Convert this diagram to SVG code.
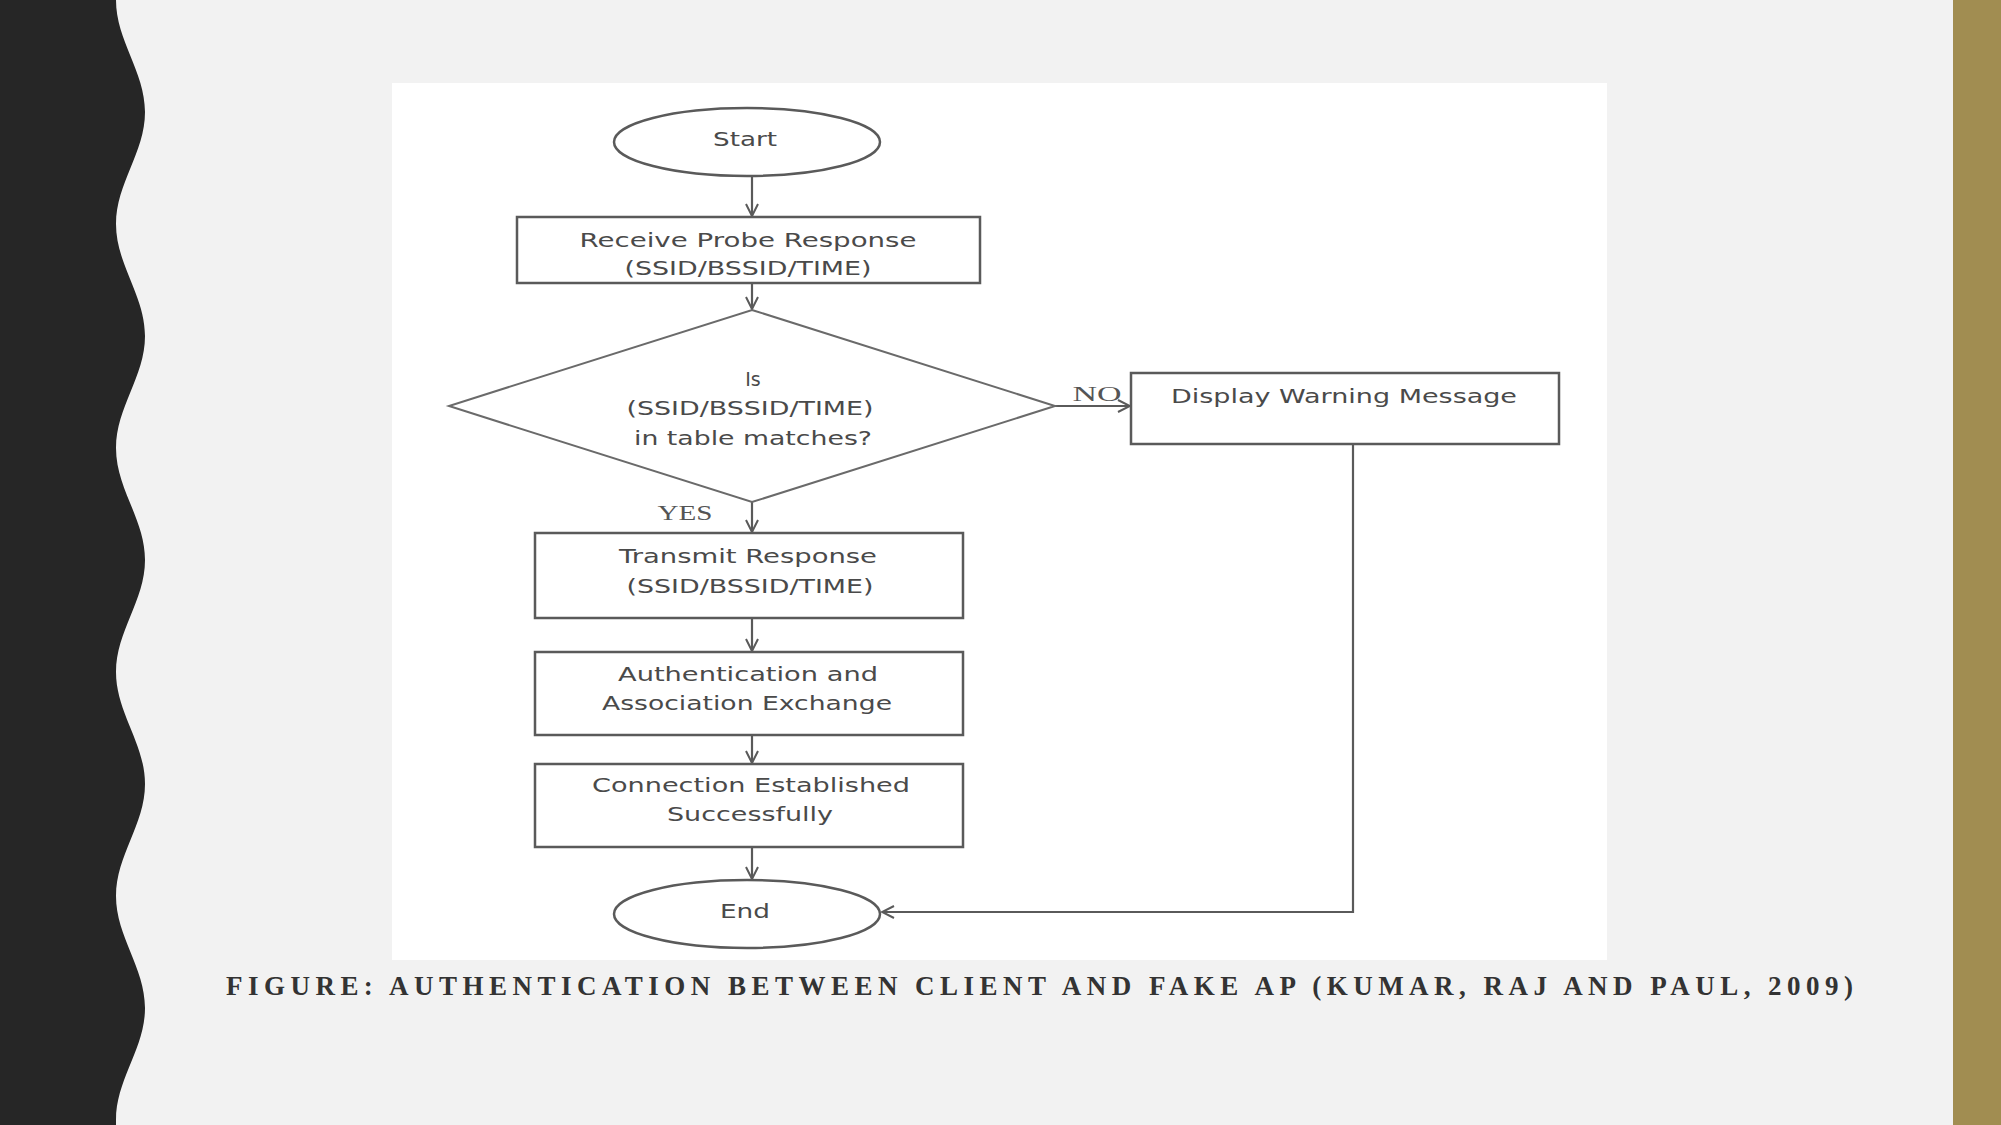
<svg xmlns="http://www.w3.org/2000/svg" width="2001" height="1125" viewBox="0 0 2001 1125">
<defs>
<style>
.bg{fill:#F2F2F2}
.node{fill:none;stroke:#5a5a5a;stroke-width:2.5}
.dia{fill:none;stroke:#6a6a6a;stroke-width:2}
.t{font-family:"DejaVu Sans","Open Sans",sans-serif;font-size:19px;fill:#4a4a4a;text-anchor:middle}
.lbl{font-family:"Liberation Serif",serif;font-size:22px;fill:#555;text-anchor:middle}
.conn{fill:none;stroke:#5a5a5a;stroke-width:2.2}
.cap{font-family:"Liberation Serif",serif;font-weight:bold;font-size:27px;fill:#333333}
</style>
<marker id="arr" markerUnits="userSpaceOnUse" markerWidth="16" markerHeight="16" viewBox="0 0 16 16" refX="14" refY="8" orient="auto">
<path d="M2,2 L14,8 L2,14" fill="none" stroke="#5a5a5a" stroke-width="2"/>
</marker>
</defs>
<rect class="bg" x="0" y="0" width="2001" height="1125"/>
<path d="M0,0 L116,0 C116,40.8 145,71.2 145,112 C145,152.8 116,183.2 116,224 C116,264.8 145,295.2 145,336 C145,376.8 116,407.2 116,448 C116,488.8 145,519.2 145,560 C145,600.8 116,631.2 116,672 C116,712.8 145,743.2 145,784 C145,824.8 116,855.2 116,896 C116,936.8 145,967.2 145,1008 C145,1048.8 116,1079.2 116,1120 L116,1125 L0,1125 Z" fill="#262626"/>
<rect x="1953" y="0" width="48" height="1125" fill="#A18D51"/>
<rect x="392" y="83" width="1215" height="877" fill="#FFFFFF"/>

<g id="connectors">
<line class="conn" x1="752" y1="176" x2="752" y2="216" marker-end="url(#arr)"/>
<line class="conn" x1="752" y1="283" x2="752" y2="309" marker-end="url(#arr)"/>
<line class="conn" x1="1055" y1="406" x2="1130" y2="406" marker-end="url(#arr)"/>
<line class="conn" x1="752" y1="502" x2="752" y2="532" marker-end="url(#arr)"/>
<line class="conn" x1="752" y1="618" x2="752" y2="651" marker-end="url(#arr)"/>
<line class="conn" x1="752" y1="735" x2="752" y2="763" marker-end="url(#arr)"/>
<line class="conn" x1="752" y1="847" x2="752" y2="879" marker-end="url(#arr)"/>
<polyline class="conn" points="1353,444 1353,912 882,912" marker-end="url(#arr)"/>
<text class="lbl" x="1097" y="401" textLength="49" lengthAdjust="spacingAndGlyphs">NO</text>
<text class="lbl" x="685" y="520" textLength="55" lengthAdjust="spacingAndGlyphs">YES</text>
</g>

<g id="start">
<ellipse class="node" cx="747" cy="142" rx="133" ry="34"/>
<text class="t" x="745" y="146" textLength="64" lengthAdjust="spacingAndGlyphs">Start</text>
</g>
<g id="receive">
<rect class="node" x="517" y="217" width="463" height="66"/>
<text class="t" x="748" y="247" textLength="337" lengthAdjust="spacingAndGlyphs">Receive Probe Response</text>
<text class="t" x="748" y="275" textLength="247" lengthAdjust="spacingAndGlyphs">(SSID/BSSID/TIME)</text>
</g>
<g id="decision">
<polygon class="dia" points="752,310 1055,406 752,502 449,406"/>
<text class="t" x="753" y="386">Is</text>
<text class="t" x="750" y="415" textLength="247" lengthAdjust="spacingAndGlyphs">(SSID/BSSID/TIME)</text>
<text class="t" x="753" y="445" textLength="238" lengthAdjust="spacingAndGlyphs">in table matches?</text>
</g>
<g id="warning">
<rect class="node" x="1131" y="373" width="428" height="71"/>
<text class="t" x="1344" y="403" textLength="346" lengthAdjust="spacingAndGlyphs">Display Warning Message</text>
</g>
<g id="transmit">
<rect class="node" x="535" y="533" width="428" height="85"/>
<text class="t" x="748" y="563" textLength="258" lengthAdjust="spacingAndGlyphs">Transmit Response</text>
<text class="t" x="750" y="593" textLength="247" lengthAdjust="spacingAndGlyphs">(SSID/BSSID/TIME)</text>
</g>
<g id="auth">
<rect class="node" x="535" y="652" width="428" height="83"/>
<text class="t" x="748" y="681" textLength="260" lengthAdjust="spacingAndGlyphs">Authentication and</text>
<text class="t" x="747" y="710" textLength="290" lengthAdjust="spacingAndGlyphs">Association Exchange</text>
</g>
<g id="connection">
<rect class="node" x="535" y="764" width="428" height="83"/>
<text class="t" x="751" y="792" textLength="318" lengthAdjust="spacingAndGlyphs">Connection Established</text>
<text class="t" x="750" y="821" textLength="166" lengthAdjust="spacingAndGlyphs">Successfully</text>
</g>
<g id="end">
<ellipse class="node" cx="747" cy="914" rx="133" ry="34"/>
<text class="t" x="745" y="918" textLength="50" lengthAdjust="spacingAndGlyphs">End</text>
</g>

<text class="cap" x="226" y="995" textLength="1627" lengthAdjust="spacing">FIGURE: AUTHENTICATION BETWEEN CLIENT AND FAKE AP (KUMAR, RAJ AND PAUL, 2009)</text>
</svg>
